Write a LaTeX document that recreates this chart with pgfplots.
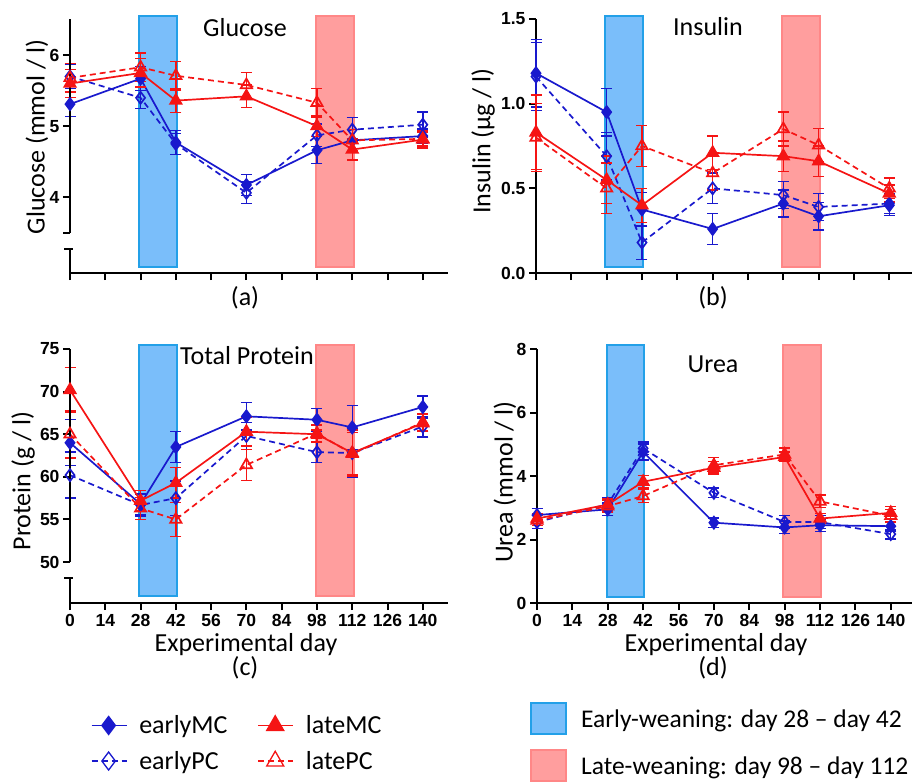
\documentclass[border=0pt]{standalone}
\usepackage{pgfplots}
\pgfplotsset{compat=1.18}
\usepackage{pgfplotstable}
\usepackage{fontspec}
\setmainfont{Carlito}
\newfontfamily\tickfont{Liberation Sans}
\definecolor{myblue}{RGB}{25,25,205}
\definecolor{myred}{RGB}{245,20,20}
\definecolor{rbfill}{RGB}{122,190,250}
\definecolor{rbdraw}{RGB}{35,160,232}
\definecolor{rrfill}{RGB}{255,158,158}
\definecolor{rrdraw}{RGB}{255,135,135}
\newcommand\lab{\fontsize{26}{30}\selectfont}
\newcommand\tck{\tickfont\bfseries\fontsize{17.5}{19}\selectfont}

\pgfplotstableread{
day eMC eMCe ePC ePCe lMC lMCe lPC lPCe
0   5.31 0.17 5.70 0.17 5.60 0.20 5.68 0.20
28  5.67 0.17 5.40 0.15 5.75 0.20 5.83 0.20
42  4.77 0.17 4.75 0.15 5.36 0.17 5.71 0.20
70  4.17 0.15 4.06 0.15 5.42 0.16 5.58 0.18
98  4.66 0.19 4.87 0.16 5.00 0.15 5.33 0.20
112 4.80 0.15 4.95 0.17 4.67 0.15 4.80 0.15
140 4.86 0.10 5.02 0.18 4.81 0.12 4.82 0.10
}\glu
\pgfplotstableread{
day eMC eMCe ePC ePCe lMC lMCe lPC lPCe
0   1.18 0.20 1.16 0.20 0.83 0.22 0.80 0.20
28  0.95 0.14 0.69 0.14 0.55 0.14 0.50 0.15
42  0.375 0.10 0.18 0.10 0.40 0.10 0.75 0.12
70  0.26 0.09 0.50 0.09 0.71 0.10 0.59 0.10
98  0.41 0.08 0.46 0.08 0.69 0.09 0.85 0.10
112 0.335 0.08 0.39 0.08 0.66 0.09 0.755 0.10
140 0.40 0.06 0.41 0.06 0.47 0.05 0.50 0.06
}\ins
\pgfplotstableread{
day eMC eMCe ePC ePCe lMC lMCe lPC lPCe
0   64.0 2.7 60.2 2.7 70.2 2.6 65.0 2.8
28  56.8 1.2 56.7 1.3 57.2 1.2 56.3 1.3
42  63.5 1.8 57.5 2.0 59.3 1.8 55.0 2.0
70  67.1 1.6 64.8 1.6 65.3 1.7 61.4 1.8
98  66.7 1.3 62.9 1.2 65.0 0.5 65.1 1.0
112 65.8 2.6 62.8 2.8 62.8 2.7 62.7 2.5
140 68.2 1.3 65.9 1.2 66.3 1.0 66.4 1.0
}\pro
\pgfplotstableread{
day eMC eMCe ePC ePCe lMC lMCe lPC lPCe
0   2.77 0.20 2.55 0.20 2.66 0.15 2.60 0.15
28  2.95 0.20 3.11 0.20 3.10 0.20 3.05 0.20
42  4.76 0.25 4.87 0.20 3.82 0.20 3.37 0.20
70  2.53 0.15 3.47 0.15 4.26 0.20 4.34 0.25
98  2.38 0.20 2.55 0.20 4.60 0.15 4.68 0.20
112 2.45 0.20 2.55 0.20 2.66 0.15 3.20 0.20
140 2.42 0.15 2.17 0.15 2.84 0.20 2.75 0.20
}\ure

\pgfplotsset{
 eb/.style={error bars/.cd, y dir=both, y explicit,
   error bar style={line width=1.4pt, solid},
   error mark=-,
   error mark options={rotate=90, line width=1.4pt, mark size=5.5pt, solid}},
 sEMC/.style={myblue, line width=1.7pt, mark=diamond*, mark size=6pt, mark options={solid, fill=myblue}},
 sEPC/.style={myblue, line width=1.7pt, dash pattern=on 6pt off 4pt, mark=diamond, mark size=6pt, mark options={solid}},
 sLMC/.style={myred, line width=1.7pt, mark=triangle*, mark size=6.5pt, mark options={solid, fill=myred}},
 sLPC/.style={myred, line width=1.7pt, dash pattern=on 6pt off 4pt, mark=triangle, mark size=6.5pt, mark options={solid}},
 rB/.style={fill=rbfill, draw=rbdraw, line width=2pt, forget plot},
 rR/.style={fill=rrfill, draw=rrdraw, line width=2pt, forget plot},
 boxleg/.style={legend image code/.code={\draw[##1] (0pt,-15pt) rectangle (35pt,16pt);}},
 panel/.style={scale only axis, height=254pt,
   axis x line*=bottom, axis y line*=left,
   axis line style={line width=2pt, -},
   tick style={line width=2pt, black},
   major tick length=7pt, tick align=outside,
   xmin=0, xtick={0,14,...,140}, clip=false,
   /pgf/number format/assume math mode=true,
   ticklabel style={font=\tck},
   xticklabel style={inner sep=1pt, text depth=0pt, yshift=-3pt},
   legend image code/.code={\draw[mark repeat=2, mark phase=2, line width=1.3pt, ##1, every mark/.append style={scale=1.5}] plot coordinates {(0pt,0pt) (17pt,0pt) (35pt,0pt)};}},
}

\begin{document}
\begin{tikzpicture}
\useasboundingbox (0,0) rectangle (912pt,-781pt);

% (a) Glucose
\begin{axis}[panel, at={(70pt,-273pt)}, anchor=south west, width=378pt, xmax=150,
  ymin=2.93, ymax=6.51, ytick={4,5,6}, xticklabels={}, y axis line style={draw=none}]
\addplot[rB] coordinates {(27.5,3.01) (42.5,3.01) (42.5,6.55) (27.5,6.55)} -- cycle;
\addplot[rR] coordinates {(97.5,3.01) (112.5,3.01) (112.5,6.55) (97.5,6.55)} -- cycle;
\addplot[sEMC, eb] table[x=day, y=eMC, y error=eMCe] {\glu};
\addplot[sEPC, eb] table[x=day, y=ePC, y error=ePCe] {\glu};
\addplot[sLMC, eb] table[x=day, y=lMC, y error=lMCe] {\glu};
\addplot[sLPC, eb] table[x=day, y=lPC, y error=lPCe] {\glu};
\draw[line width=2pt] (axis cs:0,3.5) -- (axis cs:0,6.51);
\draw[line width=2pt] ([xshift=-7pt]axis cs:0,3.5) -- (axis cs:0,3.5);
\draw[line width=2pt] (axis cs:0,2.93) -- (axis cs:0,3.27);
\draw[line width=2pt] ([xshift=-6pt]axis cs:0,3.27) -- ([xshift=3pt]axis cs:0,3.27);
\end{axis}

% (b) Insulin
\begin{axis}[panel, at={(536pt,-273pt)}, anchor=south west, width=376pt, xmax=149,
  ymin=0, ymax=1.5, ytick={0,0.5,1,1.5}, xticklabels={},
  yticklabel style={/pgf/number format/.cd, fixed, fixed zerofill, precision=1}]
\addplot[rB] coordinates {(27.5,0.035) (42.5,0.035) (42.5,1.518) (27.5,1.518)} -- cycle;
\addplot[rR] coordinates {(97.5,0.035) (112.5,0.035) (112.5,1.518) (97.5,1.518)} -- cycle;
\addplot[sEMC, eb] table[x=day, y=eMC, y error=eMCe] {\ins};
\addplot[sEPC, eb] table[x=day, y=ePC, y error=ePCe] {\ins};
\addplot[sLMC, eb] table[x=day, y=lMC, y error=lMCe] {\ins};
\addplot[sLPC, eb] table[x=day, y=lPC, y error=lPCe] {\ins};
\end{axis}

% (c) Protein
\begin{axis}[panel, at={(70pt,-603pt)}, anchor=south west, width=378pt, xmax=150,
  ymin=45.2, ymax=75, ytick={50,55,...,75}, y axis line style={draw=none},
  legend columns=2, transpose legend, legend cell align=left,
  legend style={at={(0.055,-0.435)}, anchor=north west, draw=none, fill=none, font=\lab,
    row sep=12pt, inner sep=0pt,
    /tikz/every odd column/.append style={column sep=10pt},
    /tikz/every even column/.append style={column sep=28pt}}]
\addplot[rB] coordinates {(27.5,45.98) (42.5,45.98) (42.5,75.47) (27.5,75.47)} -- cycle;
\addplot[rR] coordinates {(97.5,45.98) (112.5,45.98) (112.5,75.47) (97.5,75.47)} -- cycle;
\addplot[sEMC, eb] table[x=day, y=eMC, y error=eMCe] {\pro};
\addlegendentry{earlyMC}
\addplot[sEPC, eb] table[x=day, y=ePC, y error=ePCe] {\pro};
\addlegendentry{earlyPC}
\addplot[sLMC, eb] table[x=day, y=lMC, y error=lMCe] {\pro};
\addlegendentry{lateMC}
\addplot[sLPC, eb] table[x=day, y=lPC, y error=lPCe] {\pro};
\addlegendentry{latePC}
\draw[line width=2pt] (axis cs:0,50) -- (axis cs:0,75);
\draw[line width=2pt] (axis cs:0,45.2) -- (axis cs:0,48.1);
\draw[line width=2pt] ([xshift=-6pt]axis cs:0,48.1) -- ([xshift=3pt]axis cs:0,48.1);
\end{axis}

% (d) Urea
\begin{axis}[panel, at={(537pt,-603pt)}, anchor=south west, width=375pt, xmax=148.4,
  ymin=0, ymax=8, ytick={0,2,...,8},
  legend cell align=left,
  legend style={at={(-0.019,-0.39)}, anchor=north west, draw=none, fill=none,
    font=\fontsize{25.5}{30}\selectfont,
    row sep=14pt, inner sep=0pt,
    /tikz/every odd column/.append style={column sep=12pt}},
  ]
\addplot[fill=rbfill, draw=rbdraw, line width=2pt, boxleg]
  coordinates {(27.5,0.19) (42.5,0.19) (42.5,8.13) (27.5,8.13)} -- cycle;
\addlegendentry{Early-weaning: day 28 – day 42}
\addplot[fill=rrfill, draw=rrdraw, line width=2pt, boxleg]
  coordinates {(97.5,0.19) (112.5,0.19) (112.5,8.13) (97.5,8.13)} -- cycle;
\addlegendentry{Late-weaning: day 98 – day 112}
\addplot[sEMC, eb] table[x=day, y=eMC, y error=eMCe] {\ure};
\addplot[sEPC, eb] table[x=day, y=ePC, y error=ePCe] {\ure};
\addplot[sLMC, eb] table[x=day, y=lMC, y error=lMCe] {\ure};
\addplot[sLPC, eb] table[x=day, y=lPC, y error=lPCe] {\ure};
\end{axis}

% titles and labels
\node[font=\lab] at (245pt,-28pt) {Glucose};
\node[font=\lab] at (708pt,-27pt) {Insulin};
\node[font=\lab] at (247pt,-356pt) {Total Protein};
\node[font=\lab] at (713pt,-364pt) {Urea};
\node[font=\lab] at (245pt,-298pt) {(a)};
\node[font=\lab] at (713pt,-298pt) {(b)};
\node[font=\lab, inner sep=0pt] at (246pt,-645pt) {Experimental day};
\node[font=\lab, inner sep=0pt] at (716pt,-645pt) {Experimental day};
\node[font=\lab] at (245pt,-668pt) {(c)};
\node[font=\lab] at (713pt,-668pt) {(d)};
\node[font=\lab, rotate=90] at (37pt,-137pt) {Glucose (mmol / l)};
\node[font=\lab, rotate=90] at (483pt,-141pt) {Insulin (µg / l)};
\node[font=\lab, rotate=90] at (23pt,-481pt) {Protein (g / l)};
\node[font=\lab, rotate=90] at (505pt,-482pt) {Urea (mmol / l)};
\end{tikzpicture}
\end{document}
